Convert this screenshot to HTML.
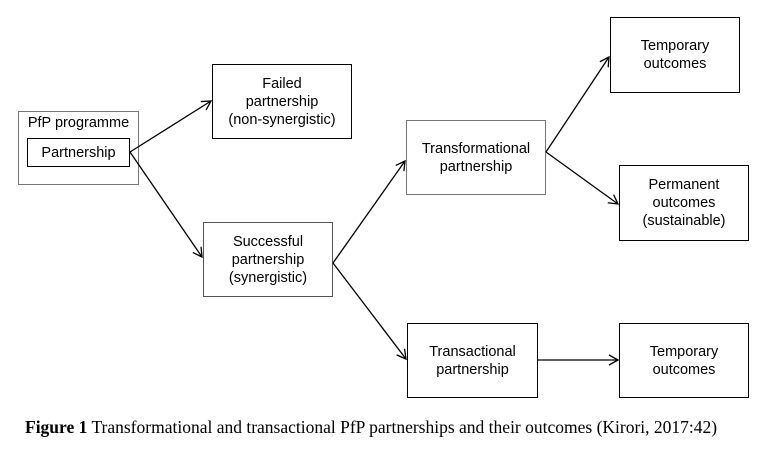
<!DOCTYPE html>
<html><head><meta charset="utf-8"><style>
body{margin:0;background:#fff;width:772px;height:450px;overflow:hidden;position:relative;font-family:"Liberation Sans",sans-serif;}
.b{position:absolute;border:1px solid #000;box-sizing:border-box;display:flex;align-items:center;justify-content:center;text-align:center;font-size:14.5px;line-height:18px;color:#000;}
.cap{position:absolute;left:25px;top:417px;font-family:"Liberation Serif",serif;font-size:17.5px;white-space:nowrap;}
</style></head><body>
<div class="b" style="left:18px;top:111px;width:121px;height:74px;align-items:flex-start;padding-top:2px;border-color:#777">PfP programme</div>
<div class="b" style="left:27px;top:138px;width:103px;height:29px">Partnership</div>
<div class="b" style="left:212px;top:64px;width:140px;height:75px">Failed<br>partnership<br>(non-synergistic)</div>
<div class="b" style="left:203px;top:222px;width:130px;height:75px;border-color:#555">Successful<br>partnership<br>(synergistic)</div>
<div class="b" style="left:406px;top:120px;width:140px;height:75px;border-color:#777">Transformational<br>partnership</div>
<div class="b" style="left:610px;top:17px;width:130px;height:76px">Temporary<br>outcomes</div>
<div class="b" style="left:619px;top:165px;width:130px;height:76px">Permanent<br>outcomes<br>(sustainable)</div>
<div class="b" style="left:407px;top:323px;width:131px;height:75px">Transactional<br>partnership</div>
<div class="b" style="left:619px;top:323px;width:130px;height:75px">Temporary<br>outcomes</div>
<svg width="772" height="450" style="position:absolute;left:0;top:0" fill="none" stroke="#000" stroke-width="1.3">
<defs><marker id="a" markerWidth="12" markerHeight="12" refX="10" refY="6" orient="auto" markerUnits="userSpaceOnUse"><path d="M1,1 L10,6 L1,11" stroke="#000" stroke-width="1.3" fill="none"/></marker></defs>
<line x1="130" y1="152" x2="211" y2="101" marker-end="url(#a)"/>
<line x1="130" y1="152" x2="202" y2="257" marker-end="url(#a)"/>
<line x1="333" y1="263" x2="405" y2="161" marker-end="url(#a)"/>
<line x1="333" y1="263" x2="406" y2="359" marker-end="url(#a)"/>
<line x1="546" y1="152" x2="609" y2="57" marker-end="url(#a)"/>
<line x1="546" y1="152" x2="618" y2="204" marker-end="url(#a)"/>
<line x1="538" y1="360" x2="618" y2="360" marker-end="url(#a)"/>
</svg>
<div class="cap"><b>Figure 1</b> Transformational and transactional PfP partnerships and their outcomes (Kirori, 2017:42)</div>
</body></html>
